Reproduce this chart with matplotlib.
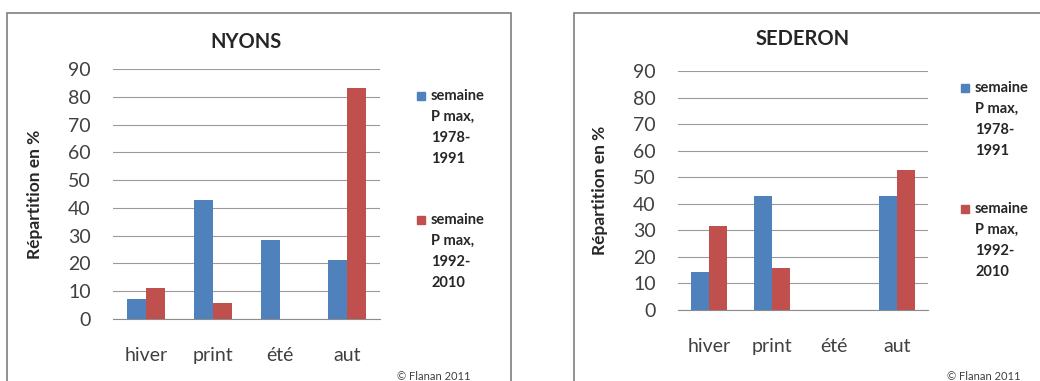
import numpy as np
import matplotlib.pyplot as plt
from matplotlib.patches import Rectangle

plt.rcParams['font.family'] = ['Lato', 'DejaVu Sans']

seasons = ['hiver', 'print', 'été', 'aut']
series_labels = [['semaine', 'P max,', '1978-', '1991'],
                 ['semaine', 'P max,', '1992-', '2010']]

nyons_1978 = [7.1, 42.9, 28.6, 21.4]
nyons_1992 = [11.1, 5.6, 0.0, 83.3]
sederon_1978 = [14.3, 42.9, 0.0, 42.9]
sederon_1992 = [31.6, 15.8, 0.0, 52.6]

yticks = np.arange(0, 91, 10)

BLUE = '#4F81BD'
RED = '#C0504D'
W, H = 1040, 381


def px_axes(x0, y0, x1, y1):
    return [x0 / W, 1 - y1 / H, (x1 - x0) / W, (y1 - y0) / H]


def draw_panel(fig, rect, title, title_y, blue, red, ylab_x, legend_xy, legend_gap, copy_xy):
    ax = fig.add_axes(px_axes(*rect))
    x = np.arange(len(seasons))
    bw = 0.286
    ax.bar(x - bw / 2, blue, bw, color=BLUE, zorder=3)
    ax.bar(x + bw / 2, red, bw, color=RED, zorder=3)
    ax.set_xlim(-0.5, 3.5)
    ax.set_ylim(0, 90)
    ax.set_yticks(yticks)
    ax.set_xticks(x)
    ax.set_xticklabels(seasons)
    ax.grid(axis='y', color='#9a9a9a', linewidth=0.8, zorder=0)
    for s in ['top', 'right', 'left']:
        ax.spines[s].set_visible(False)
    ax.spines['bottom'].set_color('#8c8c8c')
    ax.tick_params(axis='both', length=0, labelsize=14, colors='#404040')
    ax.tick_params(axis='x', pad=20)
    ax.tick_params(axis='y', pad=16)

    cx = (rect[0] + rect[2]) / 2 / W
    fig.text(cx, 1 - title_y / H, title, ha='center', va='center',
             fontsize=14.5, fontweight='bold', color='#262626')
    fig.text(ylab_x / W, 1 - (rect[1] + rect[3]) / 2 / H, 'Répartition en %',
             rotation=90, ha='center', va='center', fontsize=12.5,
             fontweight='bold', color='#262626')

    lx, ly = legend_xy
    for i, (lines, col) in enumerate(zip(series_labels, [BLUE, RED])):
        y0 = ly + i * legend_gap
        fig.add_artist(Rectangle(((lx - 14) / W, 1 - (y0 + 4) / H), 8 / W, 8 / H,
                                 transform=fig.transFigure, color=col))
        for j, t in enumerate(lines):
            fig.text(lx / W, 1 - (y0 + j * 21) / H, t, ha='left', va='center',
                     fontsize=10.5, fontweight='bold', color='#262626')

    fig.text(copy_xy[0] / W, 1 - copy_xy[1] / H, '© Flanan 2011', ha='left',
             va='center', fontsize=8, color='#404040')


fig = plt.figure(figsize=(10.4, 3.81), dpi=100)

# panel frames
fig.add_artist(Rectangle((7 / W, -0.1), (511 - 7) / W, 1 - 13 / H + 0.1,
                         transform=fig.transFigure, fill=False,
                         edgecolor='#7f7f7f', linewidth=1.2))
fig.add_artist(Rectangle((574 / W, -0.1), 0.5, 1 - 13 / H + 0.1,
                         transform=fig.transFigure, fill=False,
                         edgecolor='#7f7f7f', linewidth=1.2))

draw_panel(fig, (113, 69, 380, 319), 'NYONS', 42, nyons_1978, nyons_1992,
           35, (431, 96), 124, (397, 377))
draw_panel(fig, (678, 71, 928, 310), 'SEDERON', 39, sederon_1978, sederon_1992,
           600, (975, 88), 121, (947, 377))

fig.savefig('out.png', dpi=100)
